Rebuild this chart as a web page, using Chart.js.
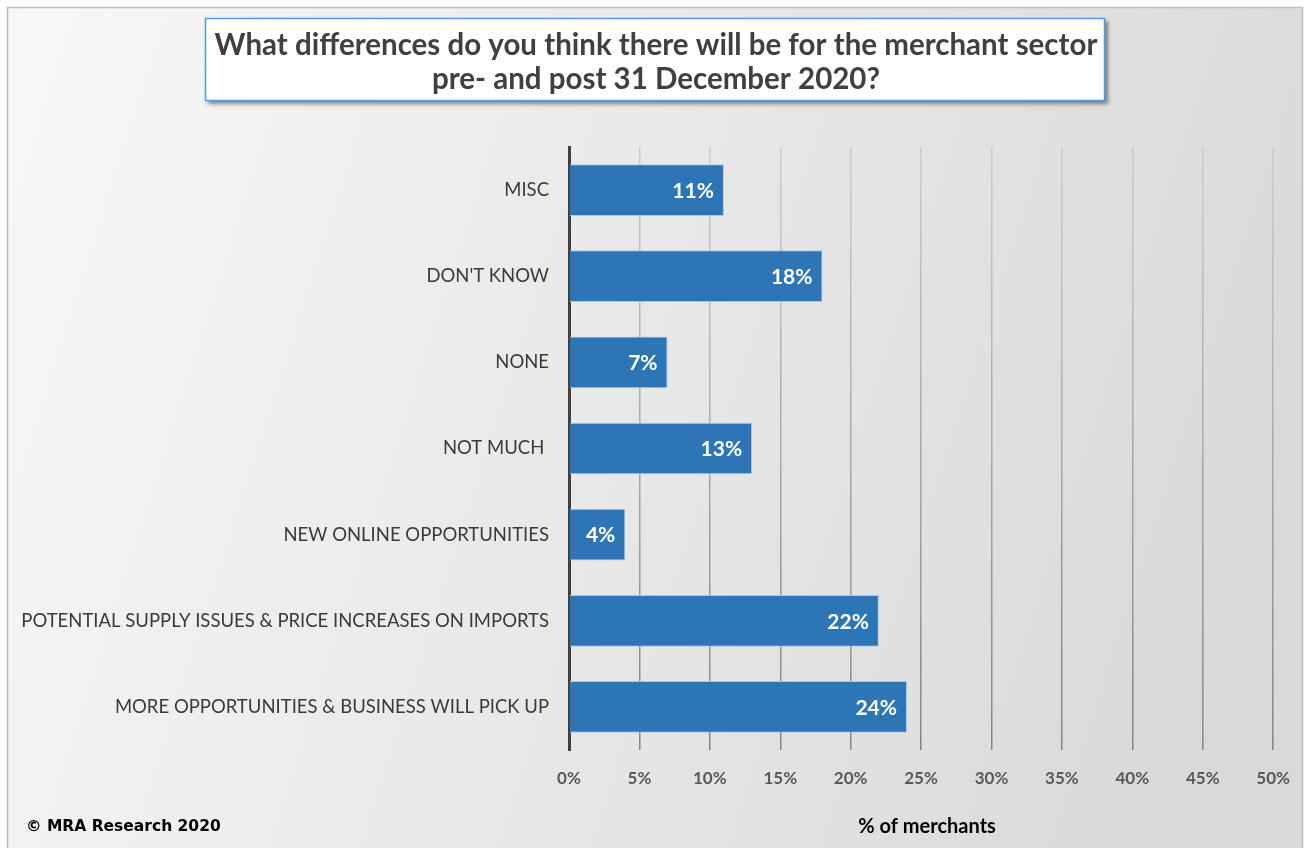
<!DOCTYPE html>
<html>
<head>
<meta charset="utf-8">
<title>Merchant sector survey</title>
<script src="https://cdn.jsdelivr.net/npm/chart.js@4.4.0/dist/chart.umd.min.js"></script>
<style>
  html, body { margin: 0; padding: 0; background: #fff; }
  #wrap { width: 1308px; height: 848px; position: relative; }
</style>
</head>
<body>
<div id="wrap"><canvas id="surveyChart"></canvas></div>
<script>
// ---- data ----
const answers = [
  "MISC",
  "DON'T KNOW",
  "NONE",
  "NOT MUCH ",
  "NEW ONLINE OPPORTUNITIES",
  "POTENTIAL SUPPLY ISSUES & PRICE INCREASES ON IMPORTS",
  "MORE OPPORTUNITIES & BUSINESS WILL PICK UP",
];
const pctMerchants = [11, 18, 7, 13, 4, 22, 24];
const titleLines = [
  "What differences do you think there will be for the merchant sector",
  "pre- and post 31 December 2020?",
];
const axisTitle = "% of merchants";
const footerText = "\u00A9 MRA Research 2020";

const FONT = "Lato, 'Open Sans', sans-serif";

// background panel, title box, footer
const decorPlugin = {
  id: "decor",
  beforeDraw(chart) {
    const ctx = chart.ctx;
    ctx.save();
    const bg = ctx.createLinearGradient(7, 7, 1302, 420);
    bg.addColorStop(0, "#f8f8f8");
    bg.addColorStop(1, "#d9d9d9");
    ctx.fillStyle = bg;
    ctx.fillRect(7, 7, 1295, 850);
    ctx.strokeStyle = "#bdbdbd";
    ctx.lineWidth = 1.5;
    ctx.strokeRect(7.5, 7.5, 1295, 850);

    // title box with drop shadow
    ctx.shadowColor = "rgba(0,0,0,0.45)";
    ctx.shadowBlur = 4;
    ctx.shadowOffsetX = 3;
    ctx.shadowOffsetY = 3;
    ctx.fillStyle = "#ffffff";
    ctx.fillRect(205, 18, 900, 83);
    ctx.shadowColor = "transparent";
    ctx.strokeStyle = "#5b9bd5";
    ctx.lineWidth = 1.5;
    ctx.strokeRect(205.5, 18.5, 899, 82);

    ctx.fillStyle = "#404040";
    ctx.font = "bold 29.5px " + FONT;
    ctx.textAlign = "center";
    ctx.textBaseline = "middle";
    ctx.fillText(titleLines[0], 656, 45);
    ctx.fillText(titleLines[1], 656, 79);

    ctx.fillStyle = "#000";
    ctx.textAlign = "left";
    ctx.font = "bold 15.5px 'DejaVu Sans', sans-serif";
    ctx.fillText(footerText, 26, 827);
    ctx.restore();
  },
  afterDraw(chart) {
    const ctx = chart.ctx;
    const area = chart.chartArea;
    ctx.save();
    ctx.fillStyle = "#000";
    ctx.font = "bold 20px " + FONT;
    ctx.textAlign = "center";
    ctx.textBaseline = "middle";
    ctx.fillText(axisTitle, (area.left + area.right) / 2 + 6, 827);
    ctx.restore();
  },
};

// white value labels inside the bar ends
const valueLabels = {
  id: "valueLabels",
  afterDatasetsDraw(chart) {
    const ctx = chart.ctx;
    const meta = chart.getDatasetMeta(0);
    ctx.save();
    ctx.fillStyle = "#fff";
    ctx.font = "bold 21px " + FONT;
    ctx.textAlign = "right";
    ctx.textBaseline = "middle";
    meta.data.forEach((bar, i) => {
      ctx.fillText(pctMerchants[i] + "%", bar.x - 10, bar.y + 1);
    });
    ctx.restore();
  },
};

let gridGrad = null;
function gridColor(context) {
  const area = context.chart.chartArea;
  if (!area) return "#aaa";
  if (!gridGrad) {
    gridGrad = context.chart.ctx.createLinearGradient(0, area.top, 0, area.bottom);
    gridGrad.addColorStop(0, "#cdcdcd");
    gridGrad.addColorStop(1, "#858585");
  }
  return gridGrad;
}

const ctx = document.getElementById("surveyChart").getContext("2d");
new Chart(ctx, {
  type: "bar",
  data: {
    labels: answers,
    datasets: [
      {
        data: pctMerchants,
        backgroundColor: "#2e75b6",
        borderColor: "#a9c9e6",
        borderWidth: 1,
        categoryPercentage: 1,
        barPercentage: 0.6,
      },
    ],
  },
  options: {
    indexAxis: "y",
    responsive: true,
    maintainAspectRatio: false,
    animation: false,
    layout: { padding: { top: 147, right: 33, left: 0, bottom: 0 } },
    plugins: {
      legend: { display: false },
      tooltip: { enabled: false },
    },
    scales: {
      x: {
        min: 0,
        max: 50,
        grid: { color: gridColor, lineWidth: 1.5, drawTicks: false },
        border: { display: false },
        ticks: {
          stepSize: 5,
          padding: 18,
          color: "#595959",
          font: { family: FONT, size: 17, weight: "bold" },
          callback: (v) => v + "%",
        },
        afterFit: (scale) => { scale.height = 98; },
      },
      y: {
        grid: { display: false, drawTicks: false },
        border: { color: "#404040", width: 3 },
        ticks: {
          padding: 20,
          color: "#3a3a3a",
          font: { family: FONT, size: 18.5 },
        },
        afterFit: (scale) => { scale.width = 569; },
      },
    },
  },
  plugins: [decorPlugin, valueLabels],
});
</script>
</body>
</html>
